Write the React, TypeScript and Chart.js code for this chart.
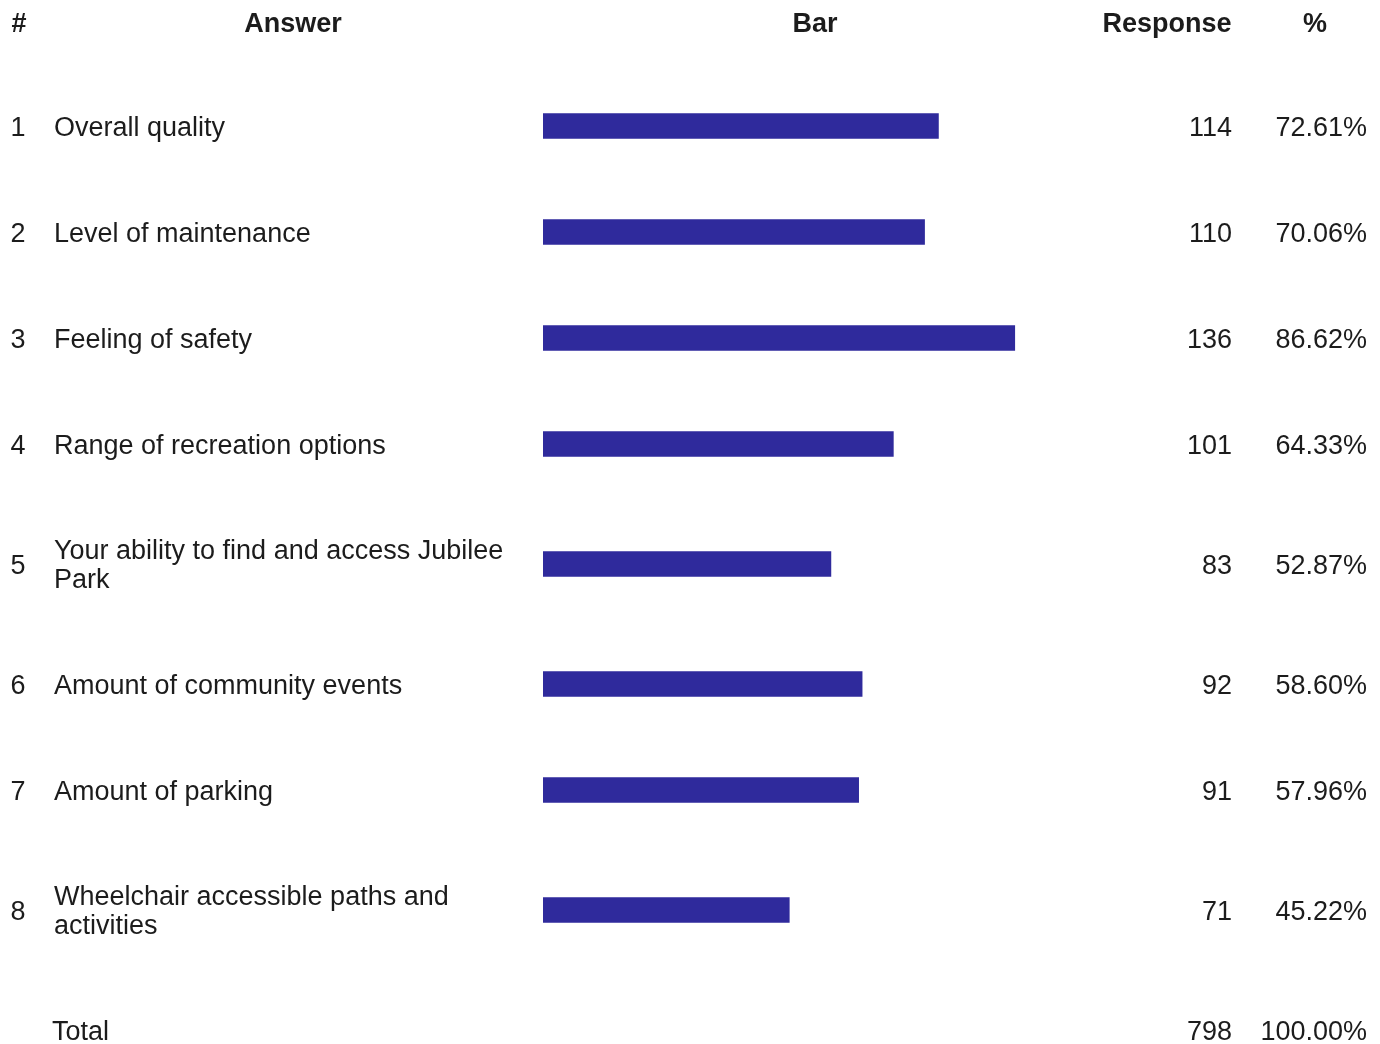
import { useEffect, useRef } from 'react';
import { Chart, registerables } from 'chart.js';

Chart.register(...registerables);

// ---- data ----
const HEADERS = ['#', 'Answer', 'Bar', 'Response', '%'];
const ROW_NUMBERS = ['1', '2', '3', '4', '5', '6', '7', '8'];
const ANSWERS = [
  'Overall quality',
  'Level of maintenance',
  'Feeling of safety',
  'Range of recreation options',
  'Your ability to find and access Jubilee\nPark',
  'Amount of community events',
  'Amount of parking',
  'Wheelchair accessible paths and\nactivities',
];
const RESPONSES = [114, 110, 136, 101, 83, 92, 91, 71];
const PERCENTS = ['72.61%', '70.06%', '86.62%', '64.33%', '52.87%', '58.60%', '57.96%', '45.22%'];
const TOTAL_LABEL = 'Total';
const TOTAL_RESPONSES = '798';
const TOTAL_PERCENT = '100.00%';

// ---- layout (row heights in units, single-line row = 1) ----
const ROW_PX = 106;
const HEADER_Y_PX = 20;
const DOUBLE_ROW = 1.264;
const W = 1380;
const H = 1044;
const CAP_HALF = 10; // half cap height of 27px text

function rowHeight(label: string) {
  return label.includes('\n') ? DOUBLE_ROW : 1;
}

function computeCenters() {
  const heights = [1, ...ANSWERS.map(rowHeight), 1]; // header, rows, total
  const centers: number[] = [];
  let acc = 0;
  for (const h of heights) {
    centers.push(acc + h / 2);
    acc += h;
  }
  return centers;
}

const FONT = '"Liberation Sans", Arial, sans-serif';
const TEXT_COLOR = '#1c1c1c';
const BAR_COLOR = '#2f2a9c';

export default function App() {
  const ref = useRef<HTMLCanvasElement | null>(null);

  useEffect(() => {
    document.body.style.margin = '0';
    const canvas = ref.current;
    if (!canvas) return;
    const centers = computeCenters();
    const headerC = centers[0];
    const rowC = centers.slice(1, 1 + ANSWERS.length);
    const totalC = centers[centers.length - 1];
    const yMin = headerC - HEADER_Y_PX / ROW_PX;
    const yMax = yMin + H / ROW_PX;

    const textPlugin = {
      id: 'tableText',
      afterDraw(chart: any) {
        const ctx = chart.ctx as CanvasRenderingContext2D;
        const ys = chart.scales.y;
        ctx.save();
        ctx.fillStyle = TEXT_COLOR;
        ctx.textBaseline = 'alphabetic';

        // headers
        ctx.font = `bold 27px ${FONT}`;
        const hy = ys.getPixelForValue(headerC) + 2 + CAP_HALF;
        const headerX = [19, 293, 815, 1167, 1315];
        HEADERS.forEach((h, i) => {
          ctx.textAlign = 'center';
          ctx.fillText(h, headerX[i], hy);
        });

        ctx.font = `27px ${FONT}`;
        ANSWERS.forEach((ans, i) => {
          const y = ys.getPixelForValue(rowC[i]) + CAP_HALF;
          ctx.textAlign = 'center';
          ctx.fillText(ROW_NUMBERS[i], 18, y);
          const lines = ans.split('\n');
          const lh = 29;
          ctx.textAlign = 'left';
          lines.forEach((ln, k) => {
            ctx.fillText(ln, 54, y + (k - (lines.length - 1) / 2) * lh);
          });
          ctx.textAlign = 'right';
          ctx.fillText(String(RESPONSES[i]), 1232, y);
          ctx.fillText(PERCENTS[i], 1367, y);
        });

        const ty = ys.getPixelForValue(totalC) + CAP_HALF;
        ctx.textAlign = 'left';
        ctx.fillText(TOTAL_LABEL, 52, ty);
        ctx.textAlign = 'right';
        ctx.fillText(TOTAL_RESPONSES, 1232, ty);
        ctx.fillText(TOTAL_PERCENT, 1367, ty);
        ctx.restore();
      },
    };

    const chart = new Chart(canvas, {
      type: 'bar',
      data: {
        datasets: [
          {
            data: RESPONSES.map((v, i) => ({ x: v, y: rowC[i] })) as any,
            backgroundColor: BAR_COLOR,
            borderWidth: 0,
            barThickness: 25,
          },
        ],
      },
      options: {
        indexAxis: 'y',
        responsive: false,
        animation: false,
        devicePixelRatio: 1,
        layout: { padding: { left: 543, right: 282, top: 0, bottom: 0 } },
        plugins: { legend: { display: false }, tooltip: { enabled: false } },
        scales: {
          x: { type: 'linear', min: 0, max: 160, display: false, offset: false, grace: 0 },
          y: { type: 'linear', min: yMin, max: yMax, reverse: true, display: false, offset: false, grace: 0 },
        },
      },
      plugins: [textPlugin],
    });
    return () => chart.destroy();
  }, []);

  return (
    <div style={{ position: 'absolute', left: 0, top: 0, width: W, height: H, background: '#fff' }}>
      <canvas ref={ref} width={W} height={H} style={{ width: W, height: H, display: 'block' }} />
    </div>
  );
}
